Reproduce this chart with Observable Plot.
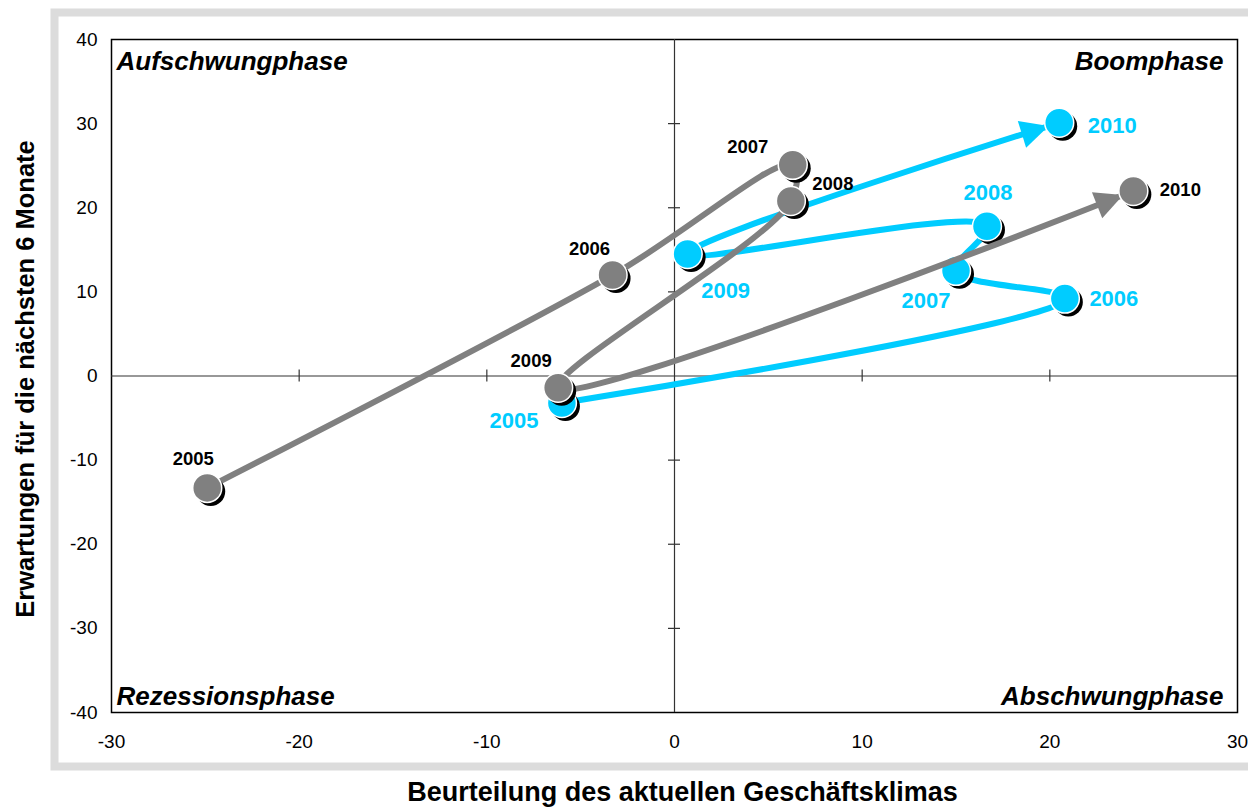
<!DOCTYPE html>
<html>
<head>
<meta charset="utf-8">
<script src="https://cdn.jsdelivr.net/npm/d3@7"></script>
<script src="https://cdn.jsdelivr.net/npm/@observablehq/plot@0.6"></script>
<style>
  html, body { margin: 0; padding: 0; background: #fff; }
  #chart svg { display: block; }
</style>
</head>
<body>
<div id="chart"></div>
<script>
// ---- data ----
const years = [2005, 2006, 2007, 2008, 2009, 2010];
const grayX = [-24.9, -3.3, 6.3, 6.2, -6.2, 24.45];
const grayY = [-13.3, 12.0, 25.1, 20.8, -1.4, 22.0];
const blueX = [-6.0, 20.8, 15.0, 16.65, 0.7, 20.5];
const blueY = [-3.2, 9.2, 12.5, 17.8, 14.5, 30.1];
const xTicks = [-30, -20, -10, 0, 10, 20, 30];
const yTicks = [-40, -30, -20, -10, 0, 10, 20, 30, 40];
const innerXTicks = [-20, -10, 10, 20];
const innerYTicks = [-30, -20, -10, 10, 20, 30];
const quadrantLabels = ["Aufschwungphase", "Boomphase", "Rezessionsphase", "Abschwungphase"];
const xTitle = "Beurteilung des aktuellen Geschäftsklimas";
const yTitle = "Erwartungen für die nächsten 6 Monate";

// ---- layout (label offsets in px, not data) ----
const grayLabelOffset = [[-14, -29], [-23, -26], [-45, -18], [42, -17], [-27, -27], [47, -1]];
const blueLabelOffset = [[-48, 18], [49, 0], [-30, 30], [1, -33], [38, 37], [53, 3]];

const gray = years.map((year, i) => ({year, x: grayX[i], y: grayY[i]}));
const blue = years.map((year, i) => ({year, x: blueX[i], y: blueY[i]}));

const GRAY = "#808080";
const BLUE = "#00CCFF";
const FONT = "'Liberation Sans', Arial, Helvetica, sans-serif";

function arrowMarker(color, context) {
  const doc = (context && context.document) || document;
  const ns = "http://www.w3.org/2000/svg";
  const m = doc.createElementNS(ns, "marker");
  m.setAttribute("viewBox", "-50 -25 60 50");
  m.setAttribute("markerWidth", 60);
  m.setAttribute("markerHeight", 50);
  m.setAttribute("markerUnits", "userSpaceOnUse");
  m.setAttribute("refX", 0);
  m.setAttribute("refY", 0);
  m.setAttribute("orient", "auto");
  m.setAttribute("overflow", "visible");
  const p = doc.createElementNS(ns, "path");
  p.setAttribute("d", "M-11,0L-39,-14L-39,14Z");
  p.setAttribute("fill", color);
  p.setAttribute("stroke", "none");
  m.appendChild(p);
  return m;
}

function seriesMarks(data, color, offsets, fontSize, labelColor) {
  const marks = [
    Plot.line(data, {x: "x", y: "y", stroke: color, strokeWidth: 6, curve: "catmull-rom",
      strokeLinecap: "round", strokeLinejoin: "round", markerEnd: arrowMarker}),
    Plot.dot(data, {x: "x", y: "y", r: 14.5, fill: "black", dx: 3.5, dy: 3.5}),
    Plot.dot(data, {x: "x", y: "y", r: 14.5, fill: color, stroke: "white", strokeWidth: 1.5})
  ];
  data.forEach((d, i) => {
    marks.push(Plot.text([d], {x: "x", y: "y", text: (e) => String(e.year),
      dx: offsets[i][0], dy: offsets[i][1], fill: labelColor, fontWeight: "bold",
      fontSize, textAnchor: "middle"}));
  });
  return marks;
}

const quadStyle = {fontSize: 26, fontWeight: "bold", fontStyle: "italic", fill: "black"};

const chart = Plot.plot({
  width: 1248,
  height: 807,
  marginLeft: 111,
  marginRight: 11,
  marginTop: 39,
  marginBottom: 95,
  style: {fontFamily: FONT, fontSize: "19px", color: "black", background: "white"},
  x: {domain: [-30, 30]},
  y: {domain: [-40, 40]},
  marks: [
    Plot.frame({stroke: "#dcdcdc", strokeWidth: 8, insetLeft: -57, insetTop: -27, insetBottom: -54, insetRight: -40}),
    Plot.frame({stroke: "black", strokeWidth: 1.5}),
    Plot.ruleX([0], {stroke: "#333", strokeWidth: 1.2}),
    Plot.ruleY([0], {stroke: "#333", strokeWidth: 1.2}),
    Plot.ruleY(innerYTicks, {x1: 0, x2: 0, insetLeft: -6, insetRight: -6, stroke: "#333", strokeWidth: 1.2}),
    Plot.ruleX(innerXTicks, {y1: 0, y2: 0, insetTop: -6, insetBottom: -6, stroke: "#333", strokeWidth: 1.2}),
    Plot.axisX(xTicks, {tickSize: 0, tickPadding: 22, label: null, fontSize: 19, tickFormat: (d) => String(d)}),
    Plot.axisY(yTicks, {tickSize: 0, tickPadding: 14, label: null, fontSize: 19, tickFormat: (d) => String(d)}),
    Plot.text([quadrantLabels[0]], {frameAnchor: "top-left", textAnchor: "start", lineAnchor: "top", dx: 5, dy: 12, ...quadStyle}),
    Plot.text([quadrantLabels[1]], {frameAnchor: "top-right", textAnchor: "end", lineAnchor: "top", dx: -14, dy: 12, ...quadStyle}),
    Plot.text([quadrantLabels[2]], {frameAnchor: "bottom-left", textAnchor: "start", lineAnchor: "bottom", dx: 5, dy: -8, ...quadStyle}),
    Plot.text([quadrantLabels[3]], {frameAnchor: "bottom-right", textAnchor: "end", lineAnchor: "bottom", dx: -14, dy: -8, ...quadStyle}),
    Plot.text([xTitle], {frameAnchor: "bottom", textAnchor: "middle", lineAnchor: "middle", dx: 8, dy: 80, fontSize: 27, fontWeight: "bold", fill: "black"}),
    Plot.text([yTitle], {frameAnchor: "left", textAnchor: "middle", lineAnchor: "middle", rotate: -90, dx: -86, dy: 3, fontSize: 25.5, fontWeight: "bold", fill: "black"}),
    ...seriesMarks(blue, BLUE, blueLabelOffset, 22, BLUE),
    ...seriesMarks(gray, GRAY, grayLabelOffset, 18.5, "black")
  ]
});
document.getElementById("chart").appendChild(chart);
</script>
</body>
</html>
